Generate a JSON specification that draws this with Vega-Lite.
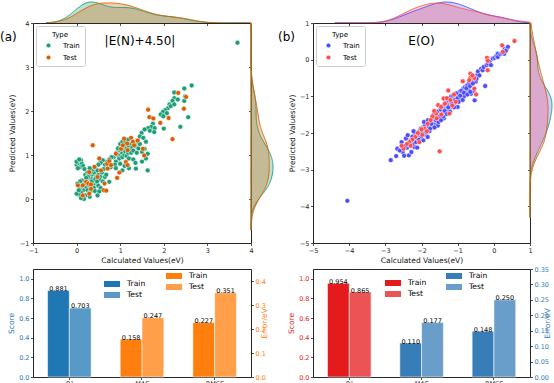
{
 "$schema": "https://vega.github.io/schema/vega-lite/v6.json",
 "padding": 0,
 "background": "white",
 "config": {
  "font": "DejaVu Sans",
  "view": {"stroke": "#262626", "strokeWidth": 1},
  "axis": {"labelFont": "DejaVu Sans", "titleFont": "DejaVu Sans", "labelFontSize": 6.5, "titleFontSize": 7.5, "titleFontWeight": "normal", "labelColor": "#262626", "titleColor": "#111111", "tickColor": "#262626", "tickSize": 2.5, "tickWidth": 0.8, "domain": false, "grid": false, "labelFlush": false, "labelOverlap": false, "labelPadding": 1.5, "titlePadding": 3},
  "legend": {"labelFont": "DejaVu Sans", "titleFont": "DejaVu Sans"},
  "title": {"font": "DejaVu Sans", "fontWeight": "normal", "color": "#000000"}
 },
 "datasets": {
  "a": [
   {"type":"Train","calc":3.69,"pred":3.55},{"type":"Train","calc":2.64,"pred":2.58},{"type":"Train","calc":2.47,"pred":2.51},{"type":"Train","calc":2.24,"pred":2.42},{"type":"Train","calc":2.47,"pred":2.23},{"type":"Train","calc":2.49,"pred":2.33},{"type":"Train","calc":2.24,"pred":2.29},{"type":"Train","calc":2.20,"pred":2.23},{"type":"Train","calc":2.13,"pred":2.15},{"type":"Train","calc":2.09,"pred":2.06},{"type":"Train","calc":2.03,"pred":2.02},{"type":"Train","calc":1.98,"pred":1.98},{"type":"Train","calc":2.07,"pred":1.95},{"type":"Train","calc":1.93,"pred":1.92},{"type":"Train","calc":2.00,"pred":1.60},{"type":"Train","calc":2.38,"pred":1.64},{"type":"Train","calc":2.56,"pred":1.86},{"type":"Train","calc":2.16,"pred":2.11},{"type":"Train","calc":1.99,"pred":1.88},{"type":"Train","calc":2.24,"pred":2.15},{"type":"Train","calc":2.32,"pred":2.26},
   {"type":"Train","calc":1.75,"pred":1.71},{"type":"Train","calc":1.71,"pred":1.64},{"type":"Train","calc":1.64,"pred":1.61},{"type":"Train","calc":1.56,"pred":1.58},{"type":"Train","calc":1.68,"pred":1.55},{"type":"Train","calc":1.79,"pred":1.61},{"type":"Train","calc":1.78,"pred":1.52},{"type":"Train","calc":1.49,"pred":1.50},{"type":"Train","calc":1.45,"pred":1.42},{"type":"Train","calc":1.53,"pred":1.39},{"type":"Train","calc":1.59,"pred":1.30},{"type":"Train","calc":1.63,"pred":0.65},{"type":"Train","calc":1.36,"pred":0.69},{"type":"Train","calc":1.59,"pred":0.92},{"type":"Train","calc":1.63,"pred":1.03},{"type":"Train","calc":1.50,"pred":1.07},{"type":"Train","calc":1.56,"pred":1.14},
   {"type":"Train","calc":0.85,"pred":0.95},{"type":"Train","calc":0.90,"pred":0.85},{"type":"Train","calc":0.92,"pred":1.05},{"type":"Train","calc":0.95,"pred":1.00},{"type":"Train","calc":0.98,"pred":0.92},{"type":"Train","calc":1.00,"pred":1.10},{"type":"Train","calc":1.02,"pred":1.00},{"type":"Train","calc":1.05,"pred":1.05},{"type":"Train","calc":1.05,"pred":0.95},{"type":"Train","calc":1.08,"pred":1.12},{"type":"Train","calc":1.10,"pred":1.00},{"type":"Train","calc":1.10,"pred":1.20},{"type":"Train","calc":1.12,"pred":1.08},{"type":"Train","calc":1.15,"pred":1.15},{"type":"Train","calc":1.15,"pred":0.98},{"type":"Train","calc":1.18,"pred":1.05},{"type":"Train","calc":1.20,"pred":1.20},{"type":"Train","calc":1.20,"pred":0.92},{"type":"Train","calc":1.22,"pred":1.12},{"type":"Train","calc":1.25,"pred":1.05},{"type":"Train","calc":1.25,"pred":1.25},{"type":"Train","calc":1.28,"pred":1.18},{"type":"Train","calc":1.30,"pred":1.10},{"type":"Train","calc":1.30,"pred":0.90},{"type":"Train","calc":1.32,"pred":1.28},{"type":"Train","calc":1.35,"pred":1.20},{"type":"Train","calc":1.38,"pred":1.05},{"type":"Train","calc":1.40,"pred":1.30},{"type":"Train","calc":1.42,"pred":1.15},{"type":"Train","calc":1.45,"pred":1.25},{"type":"Train","calc":1.00,"pred":1.25},{"type":"Train","calc":1.05,"pred":1.30},{"type":"Train","calc":0.95,"pred":1.15},{"type":"Train","calc":1.12,"pred":1.30},{"type":"Train","calc":1.18,"pred":1.35},{"type":"Train","calc":0.80,"pred":0.95},{"type":"Train","calc":0.75,"pred":0.90},{"type":"Train","calc":0.70,"pred":0.85},{"type":"Train","calc":0.88,"pred":0.78},{"type":"Train","calc":1.00,"pred":0.80},{"type":"Train","calc":1.10,"pred":0.75},{"type":"Train","calc":1.20,"pred":0.70},{"type":"Train","calc":0.90,"pred":0.70},{"type":"Train","calc":0.65,"pred":0.78},{"type":"Train","calc":0.60,"pred":0.88},{"type":"Train","calc":0.55,"pred":0.82},{"type":"Train","calc":0.50,"pred":0.78},{"type":"Train","calc":0.78,"pred":0.72},{"type":"Train","calc":1.35,"pred":0.82},{"type":"Train","calc":1.50,"pred":0.85},{"type":"Train","calc":0.75,"pred":0.39},{"type":"Train","calc":1.05,"pred":0.65},
   {"type":"Train","calc":0.00,"pred":0.78},{"type":"Train","calc":0.05,"pred":0.82},{"type":"Train","calc":0.10,"pred":0.88},{"type":"Train","calc":0.12,"pred":0.80},{"type":"Train","calc":0.08,"pred":0.72},{"type":"Train","calc":0.15,"pred":0.75},{"type":"Train","calc":0.03,"pred":0.70},{"type":"Train","calc":0.18,"pred":0.68},{"type":"Train","calc":0.00,"pred":0.85},{"type":"Train","calc":0.06,"pred":0.90},{"type":"Train","calc":0.20,"pred":0.55},{"type":"Train","calc":0.25,"pred":0.60},{"type":"Train","calc":0.30,"pred":0.50},{"type":"Train","calc":0.35,"pred":0.55},{"type":"Train","calc":0.40,"pred":0.60},{"type":"Train","calc":0.28,"pred":0.45},{"type":"Train","calc":0.22,"pred":0.40},{"type":"Train","calc":0.30,"pred":0.38},{"type":"Train","calc":0.35,"pred":0.45},{"type":"Train","calc":0.40,"pred":0.42},{"type":"Train","calc":0.45,"pred":0.50},{"type":"Train","calc":0.50,"pred":0.55},{"type":"Train","calc":0.55,"pred":0.50},{"type":"Train","calc":0.45,"pred":0.35},{"type":"Train","calc":0.38,"pred":0.32},{"type":"Train","calc":0.32,"pred":0.30},{"type":"Train","calc":0.25,"pred":0.30},{"type":"Train","calc":0.20,"pred":0.25},{"type":"Train","calc":0.15,"pred":0.20},{"type":"Train","calc":0.10,"pred":0.15},{"type":"Train","calc":0.05,"pred":0.10},{"type":"Train","calc":0.00,"pred":0.12},{"type":"Train","calc":0.08,"pred":0.25},{"type":"Train","calc":0.12,"pred":0.30},{"type":"Train","calc":0.18,"pred":0.35},{"type":"Train","calc":0.25,"pred":0.20},{"type":"Train","calc":0.30,"pred":0.15},{"type":"Train","calc":0.35,"pred":0.20},{"type":"Train","calc":0.40,"pred":0.25},{"type":"Train","calc":0.42,"pred":0.18},{"type":"Train","calc":0.20,"pred":0.08},{"type":"Train","calc":0.15,"pred":0.05},{"type":"Train","calc":0.17,"pred":0.00},{"type":"Train","calc":0.10,"pred":0.02},{"type":"Train","calc":0.05,"pred":0.20},{"type":"Train","calc":0.28,"pred":0.55},{"type":"Train","calc":0.33,"pred":0.62},{"type":"Train","calc":0.38,"pred":0.68},{"type":"Train","calc":0.42,"pred":0.72},{"type":"Train","calc":0.48,"pred":0.65},{"type":"Train","calc":0.52,"pred":0.45},{"type":"Train","calc":0.58,"pred":0.60},{"type":"Train","calc":0.60,"pred":0.40},{"type":"Train","calc":0.65,"pred":0.50},{"type":"Train","calc":0.62,"pred":0.68},{"type":"Train","calc":0.68,"pred":0.55},{"type":"Train","calc":0.30,"pred":0.70},{"type":"Train","calc":0.35,"pred":0.40},{"type":"Train","calc":0.26,"pred":0.50},{"type":"Train","calc":0.22,"pred":0.48},{"type":"Train","calc":0.43,"pred":0.45},{"type":"Train","calc":0.47,"pred":0.40},{"type":"Train","calc":0.50,"pred":0.30},{"type":"Train","calc":0.55,"pred":0.25},{"type":"Train","calc":0.52,"pred":0.17},{"type":"Train","calc":0.12,"pred":0.42},{"type":"Train","calc":0.08,"pred":0.40},{"type":"Train","calc":0.02,"pred":0.35},{"type":"Train","calc":0.30,"pred":0.05},{"type":"Train","calc":0.48,"pred":0.08},
   {"type":"Test","calc":0.37,"pred":1.22},{"type":"Test","calc":2.33,"pred":2.41},{"type":"Test","calc":2.51,"pred":2.32},{"type":"Test","calc":2.46,"pred":2.05},{"type":"Test","calc":1.64,"pred":2.03},{"type":"Test","calc":1.67,"pred":1.86},{"type":"Test","calc":1.76,"pred":1.83},{"type":"Test","calc":1.92,"pred":1.73},{"type":"Test","calc":2.11,"pred":1.84},{"type":"Test","calc":2.20,"pred":1.36},{"type":"Test","calc":1.09,"pred":1.37},{"type":"Test","calc":1.25,"pred":1.39},{"type":"Test","calc":1.29,"pred":1.30},{"type":"Test","calc":1.16,"pred":1.26},{"type":"Test","calc":1.02,"pred":1.14},{"type":"Test","calc":0.90,"pred":1.03},{"type":"Test","calc":1.17,"pred":1.11},{"type":"Test","calc":1.32,"pred":1.22},{"type":"Test","calc":1.52,"pred":1.14},{"type":"Test","calc":1.55,"pred":0.99},{"type":"Test","calc":1.13,"pred":0.84},{"type":"Test","calc":1.17,"pred":0.77},{"type":"Test","calc":0.98,"pred":0.60},{"type":"Test","calc":0.93,"pred":0.48},{"type":"Test","calc":0.64,"pred":0.35},{"type":"Test","calc":0.62,"pred":0.20},{"type":"Test","calc":0.68,"pred":0.19},{"type":"Test","calc":0.52,"pred":0.92},{"type":"Test","calc":0.70,"pred":0.80},{"type":"Test","calc":0.75,"pred":0.86},{"type":"Test","calc":0.79,"pred":0.77},{"type":"Test","calc":0.41,"pred":0.73},{"type":"Test","calc":0.29,"pred":0.61},{"type":"Test","calc":0.22,"pred":0.39},{"type":"Test","calc":0.27,"pred":0.35},{"type":"Test","calc":0.33,"pred":0.33},{"type":"Test","calc":0.14,"pred":0.31},{"type":"Test","calc":0.03,"pred":0.31},{"type":"Test","calc":0.14,"pred":0.08},{"type":"Test","calc":0.29,"pred":0.12},{"type":"Test","calc":0.33,"pred":0.23},{"type":"Test","calc":0.56,"pred":0.65},{"type":"Test","calc":0.48,"pred":0.50},{"type":"Test","calc":0.71,"pred":0.69},{"type":"Test","calc":1.40,"pred":1.33},{"type":"Test","calc":1.06,"pred":1.22}
  ],
  "b": [
   {"type":"Train","calc":-4.05,"pred":-3.85},
   {"type":"Train","calc":-2.85,"pred":-2.74},{"type":"Train","calc":-2.70,"pred":-2.63},{"type":"Train","calc":-2.67,"pred":-2.43},{"type":"Train","calc":-2.52,"pred":-2.52},{"type":"Train","calc":-2.35,"pred":-2.61},{"type":"Train","calc":-2.28,"pred":-2.52},{"type":"Train","calc":-2.40,"pred":-2.40},{"type":"Train","calc":-2.43,"pred":-2.15},{"type":"Train","calc":-2.38,"pred":-2.06},{"type":"Train","calc":-2.20,"pred":-2.38},{"type":"Train","calc":-2.25,"pred":-2.30},{"type":"Train","calc":-2.45,"pred":-2.35},{"type":"Train","calc":-2.30,"pred":-2.20},{"type":"Train","calc":-2.15,"pred":-2.25},{"type":"Train","calc":-2.10,"pred":-2.05},{"type":"Train","calc":-2.05,"pred":-1.95},{"type":"Train","calc":-2.18,"pred":-2.00},{"type":"Train","calc":-2.25,"pred":-2.10},{"type":"Train","calc":-2.32,"pred":-2.28},{"type":"Train","calc":-2.00,"pred":-2.10},{"type":"Train","calc":-1.95,"pred":-1.85},{"type":"Train","calc":-1.92,"pred":-1.93},{"type":"Train","calc":-1.88,"pred":-2.05},{"type":"Train","calc":-1.83,"pred":-2.11},{"type":"Train","calc":-1.83,"pred":-1.75},{"type":"Train","calc":-1.90,"pred":-1.78},{"type":"Train","calc":-1.85,"pred":-1.90},{"type":"Train","calc":-1.80,"pred":-1.82},{"type":"Train","calc":-1.78,"pred":-1.95},{"type":"Train","calc":-1.75,"pred":-1.70},{"type":"Train","calc":-1.72,"pred":-1.85},{"type":"Train","calc":-1.70,"pred":-1.62},{"type":"Train","calc":-1.68,"pred":-1.78},{"type":"Train","calc":-1.65,"pred":-1.61},{"type":"Train","calc":-1.62,"pred":-1.72},{"type":"Train","calc":-1.60,"pred":-1.55},{"type":"Train","calc":-1.58,"pred":-1.68},{"type":"Train","calc":-1.55,"pred":-1.50},{"type":"Train","calc":-1.55,"pred":-1.80},{"type":"Train","calc":-1.52,"pred":-1.62},{"type":"Train","calc":-1.50,"pred":-1.45},{"type":"Train","calc":-1.48,"pred":-1.58},{"type":"Train","calc":-1.45,"pred":-1.40},{"type":"Train","calc":-1.42,"pred":-1.52},{"type":"Train","calc":-1.41,"pred":-1.47},{"type":"Train","calc":-1.40,"pred":-1.35},{"type":"Train","calc":-1.38,"pred":-1.60},{"type":"Train","calc":-1.35,"pred":-1.30},{"type":"Train","calc":-1.33,"pred":-1.45},{"type":"Train","calc":-1.30,"pred":-1.25},{"type":"Train","calc":-1.28,"pred":-1.38},{"type":"Train","calc":-1.25,"pred":-1.20},{"type":"Train","calc":-1.22,"pred":-1.32},{"type":"Train","calc":-1.20,"pred":-1.15},{"type":"Train","calc":-1.18,"pred":-1.28},{"type":"Train","calc":-1.15,"pred":-1.10},{"type":"Train","calc":-1.14,"pred":-1.11},{"type":"Train","calc":-1.12,"pred":-1.22},{"type":"Train","calc":-1.10,"pred":-1.05},{"type":"Train","calc":-1.08,"pred":-1.18},{"type":"Train","calc":-1.05,"pred":-1.00},{"type":"Train","calc":-1.02,"pred":-1.12},{"type":"Train","calc":-1.00,"pred":-1.29},{"type":"Train","calc":-0.98,"pred":-0.95},{"type":"Train","calc":-0.95,"pred":-0.88},{"type":"Train","calc":-0.95,"pred":-1.05},{"type":"Train","calc":-0.91,"pred":-1.06},{"type":"Train","calc":-0.88,"pred":-0.92},{"type":"Train","calc":-0.85,"pred":-0.80},{"type":"Train","calc":-0.82,"pred":-1.00},{"type":"Train","calc":-0.80,"pred":-0.75},{"type":"Train","calc":-0.78,"pred":-0.88},{"type":"Train","calc":-0.75,"pred":-0.70},{"type":"Train","calc":-0.72,"pred":-0.70},{"type":"Train","calc":-0.70,"pred":-0.82},{"type":"Train","calc":-0.68,"pred":-0.62},{"type":"Train","calc":-0.63,"pred":-0.93},{"type":"Train","calc":-0.60,"pred":-0.55},{"type":"Train","calc":-0.53,"pred":-1.11},{"type":"Train","calc":-0.53,"pred":-0.47},{"type":"Train","calc":-0.50,"pred":-0.60},{"type":"Train","calc":-0.45,"pred":-0.40},{"type":"Train","calc":-0.44,"pred":-0.32},{"type":"Train","calc":-0.40,"pred":-0.43},{"type":"Train","calc":-0.35,"pred":-0.25},{"type":"Train","calc":-0.31,"pred":-0.29},{"type":"Train","calc":-0.28,"pred":-0.20},{"type":"Train","calc":-0.24,"pred":-0.72},{"type":"Train","calc":-0.20,"pred":-0.15},{"type":"Train","calc":-0.16,"pred":-0.11},{"type":"Train","calc":-0.12,"pred":-0.05},{"type":"Train","calc":-0.08,"pred":-0.15},{"type":"Train","calc":-0.03,"pred":0.03},{"type":"Train","calc":0.02,"pred":0.05},{"type":"Train","calc":0.07,"pred":0.10},{"type":"Train","calc":0.11,"pred":0.16},{"type":"Train","calc":0.11,"pred":0.07},{"type":"Train","calc":0.18,"pred":0.15},{"type":"Train","calc":0.22,"pred":0.18},{"type":"Train","calc":0.26,"pred":0.21},{"type":"Train","calc":0.29,"pred":0.16},{"type":"Train","calc":0.30,"pred":0.30},{"type":"Train","calc":0.35,"pred":0.28},{"type":"Train","calc":0.39,"pred":0.35},{"type":"Train","calc":0.33,"pred":0.24},
   {"type":"Train","calc":-2.08,"pred":-2.18},{"type":"Train","calc":-2.02,"pred":-1.88},{"type":"Train","calc":-1.98,"pred":-2.00},{"type":"Train","calc":-1.93,"pred":-1.70},{"type":"Train","calc":-1.87,"pred":-1.98},{"type":"Train","calc":-1.82,"pred":-1.65},{"type":"Train","calc":-1.76,"pred":-1.88},{"type":"Train","calc":-1.73,"pred":-1.75},{"type":"Train","calc":-1.66,"pred":-1.50},{"type":"Train","calc":-1.64,"pred":-1.85},{"type":"Train","calc":-1.60,"pred":-1.65},{"type":"Train","calc":-1.57,"pred":-1.42},{"type":"Train","calc":-1.53,"pred":-1.70},{"type":"Train","calc":-1.50,"pred":-1.55},{"type":"Train","calc":-1.47,"pred":-1.35},{"type":"Train","calc":-1.46,"pred":-1.65},{"type":"Train","calc":-1.43,"pred":-1.28},{"type":"Train","calc":-1.40,"pred":-1.55},{"type":"Train","calc":-1.37,"pred":-1.22},{"type":"Train","calc":-1.36,"pred":-1.40},{"type":"Train","calc":-1.32,"pred":-1.15},{"type":"Train","calc":-1.30,"pred":-1.48},{"type":"Train","calc":-1.27,"pred":-1.10},{"type":"Train","calc":-1.26,"pred":-1.30},{"type":"Train","calc":-1.23,"pred":-1.05},{"type":"Train","calc":-1.21,"pred":-1.42},{"type":"Train","calc":-1.18,"pred":-1.00},{"type":"Train","calc":-1.16,"pred":-1.20},{"type":"Train","calc":-1.13,"pred":-0.98},{"type":"Train","calc":-1.10,"pred":-1.30},{"type":"Train","calc":-1.07,"pred":-1.10},{"type":"Train","calc":-1.04,"pred":-0.92},{"type":"Train","calc":-1.00,"pred":-1.05},{"type":"Train","calc":-0.97,"pred":-1.15},{"type":"Train","calc":-0.93,"pred":-0.98},{"type":"Train","calc":-0.90,"pred":-0.85},{"type":"Train","calc":-0.86,"pred":-1.10},{"type":"Train","calc":-0.83,"pred":-0.90},{"type":"Train","calc":-0.76,"pred":-0.78},{"type":"Train","calc":-0.73,"pred":-0.95},{"type":"Train","calc":-0.66,"pred":-0.72},{"type":"Train","calc":-0.58,"pred":-0.65},{"type":"Train","calc":-0.62,"pred":-0.50},{"type":"Train","calc":-0.48,"pred":-0.52},{"type":"Train","calc":-0.56,"pred":-0.85},{"type":"Train","calc":-0.65,"pred":-0.88},
   {"type":"Train","calc":-2.55,"pred":-2.25},{"type":"Train","calc":-2.60,"pred":-2.48},{"type":"Train","calc":-2.48,"pred":-2.62},{"type":"Train","calc":-2.12,"pred":-2.40},{"type":"Train","calc":-1.95,"pred":-2.20},{"type":"Train","calc":-2.22,"pred":-1.95},
   {"type":"Test","calc":0.57,"pred":0.51},{"type":"Test","calc":0.23,"pred":0.39},{"type":"Test","calc":0.25,"pred":0.21},{"type":"Test","calc":-0.19,"pred":0.05},{"type":"Test","calc":-0.17,"pred":-0.03},{"type":"Test","calc":-0.17,"pred":-0.29},{"type":"Test","calc":-0.65,"pred":-0.38},{"type":"Test","calc":-0.65,"pred":-0.50},{"type":"Test","calc":-0.54,"pred":-0.50},{"type":"Test","calc":-0.86,"pred":-0.59},{"type":"Test","calc":-0.49,"pred":-0.95},{"type":"Test","calc":-0.54,"pred":-0.79},{"type":"Test","calc":-1.26,"pred":-0.84},{"type":"Test","calc":-1.39,"pred":-1.06},{"type":"Test","calc":-1.54,"pred":-1.24},{"type":"Test","calc":-1.46,"pred":-1.29},{"type":"Test","calc":-1.35,"pred":-1.20},{"type":"Test","calc":-1.30,"pred":-1.05},{"type":"Test","calc":-1.20,"pred":-1.10},{"type":"Test","calc":-1.10,"pred":-0.95},{"type":"Test","calc":-1.15,"pred":-1.25},{"type":"Test","calc":-1.23,"pred":-1.47},{"type":"Test","calc":-1.60,"pred":-1.47},{"type":"Test","calc":-1.65,"pred":-1.40},{"type":"Test","calc":-1.70,"pred":-1.55},{"type":"Test","calc":-1.75,"pred":-1.65},{"type":"Test","calc":-1.83,"pred":-1.75},{"type":"Test","calc":-1.92,"pred":-1.88},{"type":"Test","calc":-1.85,"pred":-1.95},{"type":"Test","calc":-1.98,"pred":-2.05},{"type":"Test","calc":-2.06,"pred":-2.25},{"type":"Test","calc":-2.17,"pred":-2.11},{"type":"Test","calc":-2.25,"pred":-2.18},{"type":"Test","calc":-2.34,"pred":-2.25},{"type":"Test","calc":-2.40,"pred":-2.30},{"type":"Test","calc":-2.50,"pred":-2.43},{"type":"Test","calc":-2.55,"pred":-2.35},{"type":"Test","calc":-2.30,"pred":-2.35},{"type":"Test","calc":-2.10,"pred":-2.00},{"type":"Test","calc":-2.00,"pred":-1.90},{"type":"Test","calc":-1.50,"pred":-2.50},{"type":"Test","calc":-0.68,"pred":-0.56},{"type":"Test","calc":-0.59,"pred":-0.43},{"type":"Test","calc":-1.05,"pred":-1.15},{"type":"Test","calc":-1.58,"pred":-1.60},{"type":"Test","calc":-1.45,"pred":-1.50}
  ],
  "r2A": [{"metric":"R²","type":"Train","value":0.881},{"metric":"R²","type":"Test","value":0.703}],
  "errA": [{"metric":"MAE","type":"Train","value":0.158},{"metric":"MAE","type":"Test","value":0.247},{"metric":"RMSE","type":"Train","value":0.227},{"metric":"RMSE","type":"Test","value":0.351}],
  "r2B": [{"metric":"R²","type":"Train","value":0.954},{"metric":"R²","type":"Test","value":0.865}],
  "errB": [{"metric":"MAE","type":"Train","value":0.110},{"metric":"MAE","type":"Test","value":0.177},{"metric":"RMSE","type":"Train","value":0.148},{"metric":"RMSE","type":"Test","value":0.250}],
  "none": []
 },
 "columns": 5,
 "spacing": 0,
 "bounds": "flush",
 "align": "each",
 "resolve": {"scale": {"x": "independent", "y": "independent", "color": "independent"}},
 "concat": [
  {
   "width": 218, "height": 21, "view": {"stroke": null},
   "data": {"name": "a"},
   "title": {"text": "(a)", "orient": "bottom", "anchor": "start", "frame": "group", "dx": -33, "offset": 6, "fontSize": 12},
   "transform": [{"density": "calc", "groupby": ["type"], "extent": [-0.7, 4.0], "as": ["v", "d"]}],
   "mark": {"type": "area", "fillOpacity": 0.3, "line": {"strokeWidth": 0.9}},
   "encoding": {
    "x": {"field": "v", "type": "quantitative", "scale": {"domain": [-1, 4], "nice": false, "zero": false}, "axis": {"orient": "bottom", "values": [0, 1, 2, 3], "labels": false, "title": null}},
    "y": {"field": "d", "type": "quantitative", "stack": null, "scale": {"nice": false, "zero": true}, "axis": null},
    "color": {"field": "type", "type": "nominal", "sort": null, "scale": {"domain": ["Train", "Test"], "range": ["#1b9e77", "#d95f02"]}, "legend": null}
   }
  },
  {"width": 22, "height": 21, "view": {"stroke": null}, "data": {"name": "none"}, "mark": "point", "encoding": {}},
  {"width": 40, "height": 21, "view": {"stroke": null}, "data": {"name": "none"}, "mark": "point", "encoding": {}},
  {
   "width": 217, "height": 21, "view": {"stroke": null},
   "data": {"name": "b"},
   "title": {"text": "(b)", "orient": "bottom", "anchor": "start", "frame": "group", "dx": -35, "offset": 6, "fontSize": 12},
   "transform": [{"density": "calc", "groupby": ["type"], "extent": [-4.4, 1.0], "as": ["v", "d"]}],
   "mark": {"type": "area", "fillOpacity": 0.28, "line": {"strokeWidth": 0.9}},
   "encoding": {
    "x": {"field": "v", "type": "quantitative", "scale": {"domain": [-5, 1], "nice": false, "zero": false}, "axis": {"orient": "bottom", "values": [-4, -3, -2, -1, 0], "labels": false, "title": null}},
    "y": {"field": "d", "type": "quantitative", "stack": null, "scale": {"nice": false, "zero": true}, "axis": null},
    "color": {"field": "type", "type": "nominal", "sort": null, "scale": {"domain": ["Train", "Test"], "range": ["#4d4dff", "#ff4d4d"]}, "legend": null}
   }
  },
  {"width": 22, "height": 21, "view": {"stroke": null}, "data": {"name": "none"}, "mark": "point", "encoding": {}},

  {
   "width": 218, "height": 220,
   "data": {"name": "a"},
   "title": {"text": "|E(N)+4.50|", "fontSize": 12, "offset": -28, "anchor": "middle", "dx": -2},
   "mark": {"type": "point", "filled": true, "size": 24, "opacity": 1, "stroke": "white", "strokeWidth": 0.5},
   "encoding": {
    "x": {"field": "calc", "type": "quantitative", "scale": {"domain": [-1, 4], "nice": false, "zero": false}, "axis": {"values": [-1, 0, 1, 2, 3, 4], "title": "Calculated Values(eV)"}},
    "y": {"field": "pred", "type": "quantitative", "scale": {"domain": [-1, 4], "nice": false, "zero": false}, "axis": {"values": [-1, 0, 1, 2, 3, 4], "title": "Predicted Values(eV)"}},
    "color": {"field": "type", "type": "nominal", "sort": null, "scale": {"domain": ["Train", "Test"], "range": ["#1b9e77", "#d95f02"]},
     "legend": {"orient": "top-left", "offset": 3, "padding": 5, "strokeColor": "#cccccc", "fillColor": "white", "cornerRadius": 2, "title": "Type", "titleFontSize": 7, "titleFontWeight": "normal", "titleAnchor": "middle", "titlePadding": 4, "labelFontSize": 7, "symbolSize": 22, "symbolStrokeColor": "white", "symbolStrokeWidth": 0.5, "rowPadding": 4, "symbolOffset": 4, "labelOffset": 11}}
   }
  },
  {
   "width": 22, "height": 220, "view": {"stroke": null},
   "data": {"name": "a"},
   "transform": [{"density": "pred", "groupby": ["type"], "extent": [-0.7, 4.0], "as": ["v", "d"]}],
   "mark": {"type": "area", "orient": "horizontal", "fillOpacity": 0.3, "strokeWidth": 0.9},
   "encoding": {
    "y": {"field": "v", "type": "quantitative", "scale": {"domain": [-1, 4], "nice": false, "zero": false}, "axis": {"orient": "left", "values": [0, 1, 2, 3], "labels": false, "title": null}},
    "x": {"field": "d", "type": "quantitative", "stack": null, "scale": {"nice": false, "zero": true}, "axis": null},
    "color": {"field": "type", "type": "nominal", "sort": null, "scale": {"domain": ["Train", "Test"], "range": ["#1b9e77", "#d95f02"]}, "legend": null},
    "stroke": {"field": "type", "type": "nominal", "sort": null, "scale": {"domain": ["Train", "Test"], "range": ["#1b9e77", "#d95f02"]}, "legend": null}
   }
  },
  {"width": 40, "height": 220, "view": {"stroke": null}, "data": {"name": "none"}, "mark": "point", "encoding": {}},
  {
   "width": 217, "height": 220,
   "data": {"name": "b"},
   "title": {"text": "E(O)", "fontSize": 12, "offset": -28, "anchor": "middle"},
   "mark": {"type": "point", "filled": true, "size": 24, "opacity": 1, "stroke": "white", "strokeWidth": 0.5},
   "encoding": {
    "x": {"field": "calc", "type": "quantitative", "scale": {"domain": [-5, 1], "nice": false, "zero": false}, "axis": {"values": [-5, -4, -3, -2, -1, 0, 1], "title": "Calculated Values(eV)"}},
    "y": {"field": "pred", "type": "quantitative", "scale": {"domain": [-5, 1], "nice": false, "zero": false}, "axis": {"values": [-5, -4, -3, -2, -1, 0, 1], "title": "Predicted Values(eV)"}},
    "color": {"field": "type", "type": "nominal", "sort": null, "scale": {"domain": ["Train", "Test"], "range": ["#4d4dff", "#ff4d4d"]},
     "legend": {"orient": "top-left", "offset": 3, "padding": 5, "strokeColor": "#cccccc", "fillColor": "white", "cornerRadius": 2, "title": "Type", "titleFontSize": 7, "titleFontWeight": "normal", "titleAnchor": "middle", "titlePadding": 4, "labelFontSize": 7, "symbolSize": 22, "symbolStrokeColor": "white", "symbolStrokeWidth": 0.5, "rowPadding": 4, "symbolOffset": 4, "labelOffset": 11}}
   }
  },
  {
   "width": 22, "height": 220, "view": {"stroke": null},
   "data": {"name": "b"},
   "transform": [{"density": "pred", "groupby": ["type"], "extent": [-4.3, 1.0], "as": ["v", "d"]}],
   "mark": {"type": "area", "orient": "horizontal", "fillOpacity": 0.28, "strokeWidth": 0.9},
   "encoding": {
    "y": {"field": "v", "type": "quantitative", "scale": {"domain": [-5, 1], "nice": false, "zero": false}, "axis": {"orient": "left", "values": [-4, -3, -2, -1, 0], "labels": false, "title": null}},
    "x": {"field": "d", "type": "quantitative", "stack": null, "scale": {"nice": false, "zero": true}, "axis": null},
    "color": {"field": "type", "type": "nominal", "sort": null, "scale": {"domain": ["Train", "Test"], "range": ["#4d4dff", "#ff4d4d"]}, "legend": null},
    "stroke": {"field": "type", "type": "nominal", "sort": null, "scale": {"domain": ["Train", "Test"], "range": ["#4d4dff", "#ff4d4d"]}, "legend": null}
   }
  },

  {"width": 218, "height": 26, "view": {"stroke": null}, "data": {"name": "none"}, "mark": "point", "encoding": {}},
  {"width": 22, "height": 26, "view": {"stroke": null}, "data": {"name": "none"}, "mark": "point", "encoding": {}},
  {"width": 40, "height": 26, "view": {"stroke": null}, "data": {"name": "none"}, "mark": "point", "encoding": {}},
  {"width": 217, "height": 26, "view": {"stroke": null}, "data": {"name": "none"}, "mark": "point", "encoding": {}},
  {"width": 22, "height": 26, "view": {"stroke": null}, "data": {"name": "none"}, "mark": "point", "encoding": {}},

  {
   "width": 218, "height": 108,
   "encoding": {
    "x": {"field": "metric", "type": "nominal", "sort": null, "scale": {"domain": ["R²", "MAE", "RMSE"], "paddingInner": 0.4, "paddingOuter": 0.2}, "axis": {"title": null, "labelAngle": 0, "labelFontStyle": "italic", "labelFontSize": 6.5, "labelPadding": 1}},
    "xOffset": {"field": "type", "type": "nominal", "sort": null, "scale": {"domain": ["Train", "Test"], "paddingInner": 0, "paddingOuter": 0}}
   },
   "layer": [
    {"data": {"name": "r2A"}, "mark": {"type": "bar", "stroke": "white", "strokeWidth": 0.8, "strokeOpacity": 0.7},
     "encoding": {
      "y": {"field": "value", "type": "quantitative", "scale": {"domain": [0, 1.1], "nice": false}, "axis": {"orient": "left", "values": [0, 0.2, 0.4, 0.6, 0.8, 1.0], "format": ".1f", "title": "Score", "labelColor": "#1f77b4", "titleColor": "#1f77b4"}},
      "color": {"field": "type", "type": "nominal", "sort": null, "scale": {"domain": ["Train", "Test"], "range": ["#1f77b4", "#5799c7"]},
       "legend": {"orient": "none", "legendX": 74, "legendY": 10, "title": null, "labelFontSize": 7.6, "symbolType": "M-1.6,-0.6H1.6V0.6H-1.6Z", "symbolSize": 100, "labelOffset": 10, "rowPadding": 2, "padding": 0, "symbolStrokeWidth": 0}}
     }},
    {"data": {"name": "r2A"}, "mark": {"type": "text", "baseline": "alphabetic", "fontSize": 6.5, "dy": 0.5},
     "encoding": {
      "y": {"field": "value", "type": "quantitative", "scale": {"domain": [0, 1.1], "nice": false}, "axis": null},
      "text": {"field": "value", "type": "quantitative", "format": ".3f"}
     }},
    {"data": {"name": "errA"}, "mark": {"type": "bar", "stroke": "white", "strokeWidth": 0.8, "strokeOpacity": 0.7},
     "encoding": {
      "y": {"field": "value", "type": "quantitative", "scale": {"domain": [0, 0.45], "nice": false}, "axis": {"orient": "right", "values": [0, 0.1, 0.2, 0.3, 0.4], "format": ".1f", "title": "Error/eV", "titleAngle": 270, "labelColor": "#ff7f0e", "titleColor": "#ff7f0e"}},
      "color": {"field": "type", "type": "nominal", "sort": null, "scale": {"domain": ["Train", "Test"], "range": ["#ff7f0e", "#ff9f4a"]},
       "legend": {"orient": "none", "legendX": 136, "legendY": 2, "title": null, "labelFontSize": 7.6, "symbolType": "M-1.6,-0.6H1.6V0.6H-1.6Z", "symbolSize": 100, "labelOffset": 10, "rowPadding": 2, "padding": 0, "symbolStrokeWidth": 0}}
     }},
    {"data": {"name": "errA"}, "mark": {"type": "text", "baseline": "alphabetic", "fontSize": 6.5, "dy": 0.5},
     "encoding": {
      "y": {"field": "value", "type": "quantitative", "scale": {"domain": [0, 0.45], "nice": false}, "axis": null},
      "text": {"field": "value", "type": "quantitative", "format": ".3f"}
     }}
   ],
   "resolve": {"scale": {"y": "independent", "color": "independent"}}
  },
  {"width": 22, "height": 108, "view": {"stroke": null}, "data": {"name": "none"}, "mark": "point", "encoding": {}},
  {"width": 40, "height": 108, "view": {"stroke": null}, "data": {"name": "none"}, "mark": "point", "encoding": {}},
  {
   "width": 217, "height": 108,
   "encoding": {
    "x": {"field": "metric", "type": "nominal", "sort": null, "scale": {"domain": ["R²", "MAE", "RMSE"], "paddingInner": 0.4, "paddingOuter": 0.2}, "axis": {"title": null, "labelAngle": 0, "labelFontStyle": "italic", "labelFontSize": 6.5, "labelPadding": 1}},
    "xOffset": {"field": "type", "type": "nominal", "sort": null, "scale": {"domain": ["Train", "Test"], "paddingInner": 0, "paddingOuter": 0}}
   },
   "layer": [
    {"data": {"name": "r2B"}, "mark": {"type": "bar", "stroke": "white", "strokeWidth": 0.8, "strokeOpacity": 0.7},
     "encoding": {
      "y": {"field": "value", "type": "quantitative", "scale": {"domain": [0, 1.1], "nice": false}, "axis": {"orient": "left", "values": [0, 0.2, 0.4, 0.6, 0.8, 1.0], "format": ".1f", "title": "Score", "labelColor": "#e41a1c", "titleColor": "#e41a1c"}},
      "color": {"field": "type", "type": "nominal", "sort": null, "scale": {"domain": ["Train", "Test"], "range": ["#e41a1c", "#eb5355"]},
       "legend": {"orient": "none", "legendX": 75, "legendY": 9, "title": null, "labelFontSize": 7.6, "symbolType": "M-1.6,-0.6H1.6V0.6H-1.6Z", "symbolSize": 100, "labelOffset": 10, "rowPadding": 2, "padding": 0, "symbolStrokeWidth": 0}}
     }},
    {"data": {"name": "r2B"}, "mark": {"type": "text", "baseline": "alphabetic", "fontSize": 6.5, "dy": 0.5},
     "encoding": {
      "y": {"field": "value", "type": "quantitative", "scale": {"domain": [0, 1.1], "nice": false}, "axis": null},
      "text": {"field": "value", "type": "quantitative", "format": ".3f"}
     }},
    {"data": {"name": "errB"}, "mark": {"type": "bar", "stroke": "white", "strokeWidth": 0.8, "strokeOpacity": 0.7},
     "encoding": {
      "y": {"field": "value", "type": "quantitative", "scale": {"domain": [0, 0.35], "nice": false}, "axis": {"orient": "right", "values": [0, 0.05, 0.1, 0.15, 0.2, 0.25, 0.3, 0.35], "format": ".2f", "title": "Error/eV", "titleAngle": 270, "labelColor": "#377eb8", "titleColor": "#377eb8"}},
      "color": {"field": "type", "type": "nominal", "sort": null, "scale": {"domain": ["Train", "Test"], "range": ["#377eb8", "#699eca"]},
       "legend": {"orient": "none", "legendX": 136, "legendY": 2, "title": null, "labelFontSize": 7.6, "symbolType": "M-1.6,-0.6H1.6V0.6H-1.6Z", "symbolSize": 100, "labelOffset": 10, "rowPadding": 2, "padding": 0, "symbolStrokeWidth": 0}}
     }},
    {"data": {"name": "errB"}, "mark": {"type": "text", "baseline": "alphabetic", "fontSize": 6.5, "dy": 0.5},
     "encoding": {
      "y": {"field": "value", "type": "quantitative", "scale": {"domain": [0, 0.35], "nice": false}, "axis": null},
      "text": {"field": "value", "type": "quantitative", "format": ".3f"}
     }}
   ],
   "resolve": {"scale": {"y": "independent", "color": "independent"}}
  },
  {"width": 22, "height": 108, "view": {"stroke": null}, "data": {"name": "none"}, "mark": "point", "encoding": {}}
 ]
}
